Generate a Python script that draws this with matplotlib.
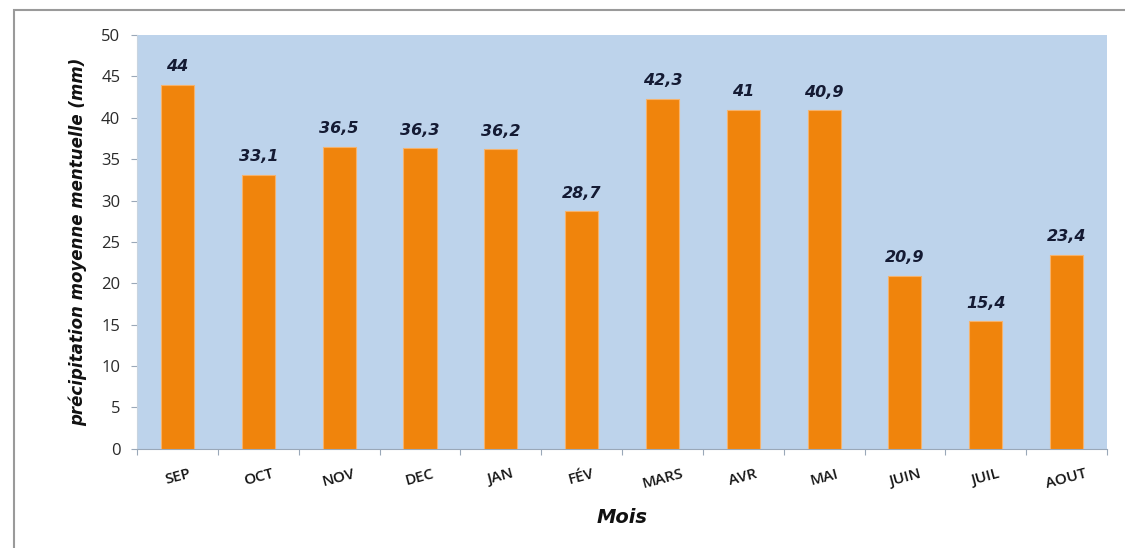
import numpy as np
import matplotlib.pyplot as plt
from matplotlib.patches import Rectangle

# monthly mean precipitation (mm), hydrological year Sep -> Aug
mois = ['SEP', 'OCT', 'NOV', 'DEC', 'JAN', 'FÉV', 'MARS', 'AVR', 'MAI', 'JUIN', 'JUIL', 'AOUT']
precip = [44, 33.1, 36.5, 36.3, 36.2, 28.7, 42.3, 41, 40.9, 20.9, 15.4, 23.4]

fig = plt.figure(figsize=(11.25, 5.48), dpi=100)
ax = fig.add_axes([0.1218, 0.181, 0.8622, 0.755])

# grey frame around the chart area
fig.patches.append(Rectangle((14 / 1125, -0.1), 1.2, 1 - 10 / 548 + 0.1,
                             transform=fig.transFigure, fill=False,
                             edgecolor='#9a9a9a', linewidth=1.5))

x = np.arange(len(mois))
ax.set_facecolor('#bdd3eb')
ax.bar(x, precip, width=0.41, color='#f0840c', edgecolor='#f6b26b', linewidth=0.8, zorder=3)

for xi, v in zip(x, precip):
    txt = ('%g' % v).replace('.', ',')
    ax.text(xi, v + 1.3, txt, ha='center', va='bottom', fontsize=11.5,
            fontweight='bold', fontstyle='italic', color='#141a33',
            family='DejaVu Sans')

ax.set_xlim(-0.5, len(mois) - 0.5)
ax.set_ylim(0, 50)
ax.set_yticks(range(0, 51, 5))
ax.set_xticks(np.arange(-0.5, len(mois), 1), minor=False)
ax.set_xticklabels([])
ax.set_xticks(x, minor=True)
ax.set_xticklabels(mois, minor=True, rotation=15, fontsize=11, color='#151515',
                   family='Open Sans', fontweight='semibold')
ax.tick_params(axis='x', which='minor', length=0, pad=13)
ax.tick_params(axis='x', which='major', length=4, color='#9aa8b8')
ax.tick_params(axis='y', length=4, color='#9aa8b8', labelsize=12, labelcolor='#2a2a2a', pad=8)
for lab in ax.get_yticklabels():
    lab.set_family('Open Sans')

for side in ['top', 'right', 'left', 'bottom']:
    ax.spines[side].set_visible(False)
ax.spines['left'].set_visible(True)
ax.spines['left'].set_color('#c8d4e0')
ax.spines['bottom'].set_visible(True)
ax.spines['bottom'].set_color('#9aa8b8')

ax.set_ylabel('précipitation moyenne mentuelle (mm)', fontsize=12, fontweight='bold',
              fontstyle='italic', color='#111111', labelpad=10)
ax.set_xlabel('Mois', fontsize=14, fontweight='bold', fontstyle='italic',
              color='#111111', labelpad=12)

fig.savefig('out.png', dpi=100)
